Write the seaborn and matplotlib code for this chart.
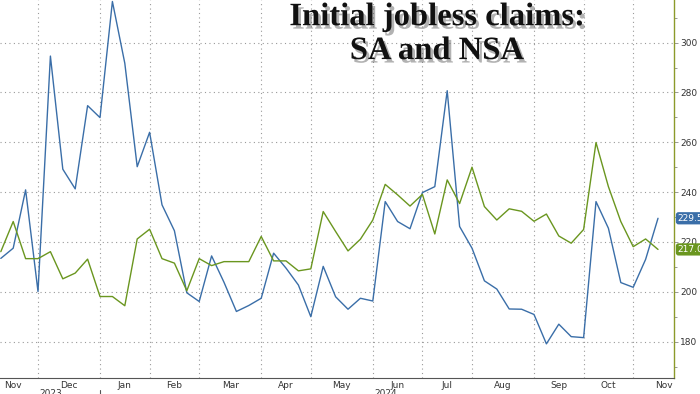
import pandas as pd
import matplotlib.pyplot as plt
import matplotlib.patheffects as pe
import seaborn as sns

# Weekly initial jobless claims (thousands), Nov 2023 - Nov 2024
nsa = [213.4, 217.5, 240.9, 200.1, 294.6, 249.2, 241.3, 274.7, 269.9, 316.5,
       291.7, 250.2, 264.0, 234.9, 224.5, 199.6, 196.1, 214.4, 203.8, 192.1,
       194.5, 197.4, 215.5, 209.5, 202.7, 190.0, 210.2, 198.0, 193.0, 197.4,
       196.3, 236.2, 228.2, 225.3, 239.8, 242.2, 280.7, 226.2, 217.5, 204.4,
       201.1, 193.1, 193.0, 190.9, 179.1, 187.0, 182.0, 181.6, 236.2, 225.5,
       203.7, 201.8, 213.0, 229.5]
sa = [216.1, 228.2, 213.3, 213.3, 216.1, 205.2, 207.5, 213.1, 198.1, 198.1,
      194.4, 221.2, 225.1, 213.3, 211.5, 200.4, 213.3, 210.5, 212.1, 212.1,
      212.1, 222.2, 212.4, 212.4, 208.4, 209.2, 232.2, 224.2, 216.4, 221.1,
      228.8, 243.1, 238.9, 234.4, 239.1, 223.2, 244.9, 235.4, 250.0, 234.2,
      228.8, 233.3, 232.3, 228.3, 231.2, 222.4, 219.5, 225.0, 259.9, 242.2,
      228.2, 218.1, 221.2, 217.0]

# first week of each month (week index) and month names
month_starts = [3, 8, 12, 16, 21, 25, 30, 34, 38, 43, 47, 51]
months = ['Nov', 'Dec', 'Jan', 'Feb', 'Mar', 'Apr', 'May', 'Jun', 'Jul',
          'Aug', 'Sep', 'Oct', 'Nov']
years = ['2023', '2024']

blue = '#3a6ea8'
green = '#6a961f'

df = pd.DataFrame({
    'week': list(range(len(nsa))) * 2,
    'claims': nsa + sa,
    'series': ['NSA'] * len(nsa) + ['SA'] * len(sa),
})

sns.set_style('white')
fig = plt.figure(figsize=(7, 3.94), dpi=100)
ax = fig.add_axes([0, 16 / 394, 674 / 700, 378 / 394])

sns.lineplot(data=df, x='week', y='claims', hue='series',
             palette={'NSA': blue, 'SA': green}, linewidth=1.0,
             legend=False, ax=ax)

ax.set_xlim(-0.065, 54.29)
ax.set_ylim(165.4, 317.1)
ax.set_xlabel('')
ax.set_ylabel('')

# right axis
ax.yaxis.tick_right()
ax.set_yticks(range(180, 301, 20))
ax.set_yticks(range(170, 311, 10), minor=True)
ax.tick_params(axis='y', which='both', direction='out', length=3, width=0.6,
               color='#888888', labelsize=6.5, labelcolor='#333333', pad=1.5,
               right=True, left=False)
ax.tick_params(axis='y', which='minor', length=2)

# x axis: month boundaries as major ticks, month names centred
ax.set_xticks(month_starts)
ax.set_xticklabels([])
bounds = [-1] + month_starts + [56]
mids = [(a + b) / 2 for a, b in zip(bounds[:-1], bounds[1:])]
ax.set_xticks(mids, minor=True)
ax.set_xticklabels(months, minor=True)
ax.tick_params(axis='x', which='major', direction='out', length=3, width=0.6,
               color='#888888')
ax.tick_params(axis='x', which='minor', length=0, labelsize=6.5,
               labelcolor='#333333', pad=2)

ax.grid(True, which='major', color='#9a9a9a', linestyle=(0, (1, 3)),
        linewidth=0.8)

for side in ['top', 'left']:
    ax.spines[side].set_visible(False)
ax.spines['right'].set_color('#8c9a2a')
ax.spines['right'].set_linewidth(1.0)
ax.spines['bottom'].set_color('#555555')
ax.spines['bottom'].set_linewidth(0.8)

# year labels and separator
ax.plot([8, 8], [-0.032, -0.06], transform=ax.get_xaxis_transform(),
        color='#555555', linewidth=0.8, clip_on=False)
ax.text(4, -0.028, years[0], transform=ax.get_xaxis_transform(), ha='center',
        va='top', fontsize=6.5, color='#333333')
ax.text(31, -0.028, years[1], transform=ax.get_xaxis_transform(), ha='center',
        va='top', fontsize=6.5, color='#333333')

# last value tags
for val, col in [(nsa[-1], blue), (sa[-1], green)]:
    ax.annotate(f'{val:.1f}', xy=(1.0, val), xycoords=('axes fraction', 'data'),
                xytext=(2.5, 0), textcoords='offset points', ha='left',
                va='center', fontsize=6.5, color='white', annotation_clip=False,
                bbox=dict(boxstyle='round,pad=0.18,rounding_size=0.3',
                          fc=col, ec='none'))

# title
fig.text(0.624, 0.997, 'Initial jobless claims:\nSA and NSA', ha='center',
         va='top', fontsize=23.5, fontweight='bold', family='Liberation Serif',
         linespacing=1.12, color='#111111',
         path_effects=[pe.withSimplePatchShadow(offset=(2, -2.5),
                                                shadow_rgbFace='#555555',
                                                alpha=0.45)])

fig.savefig('out.png', dpi=100)
